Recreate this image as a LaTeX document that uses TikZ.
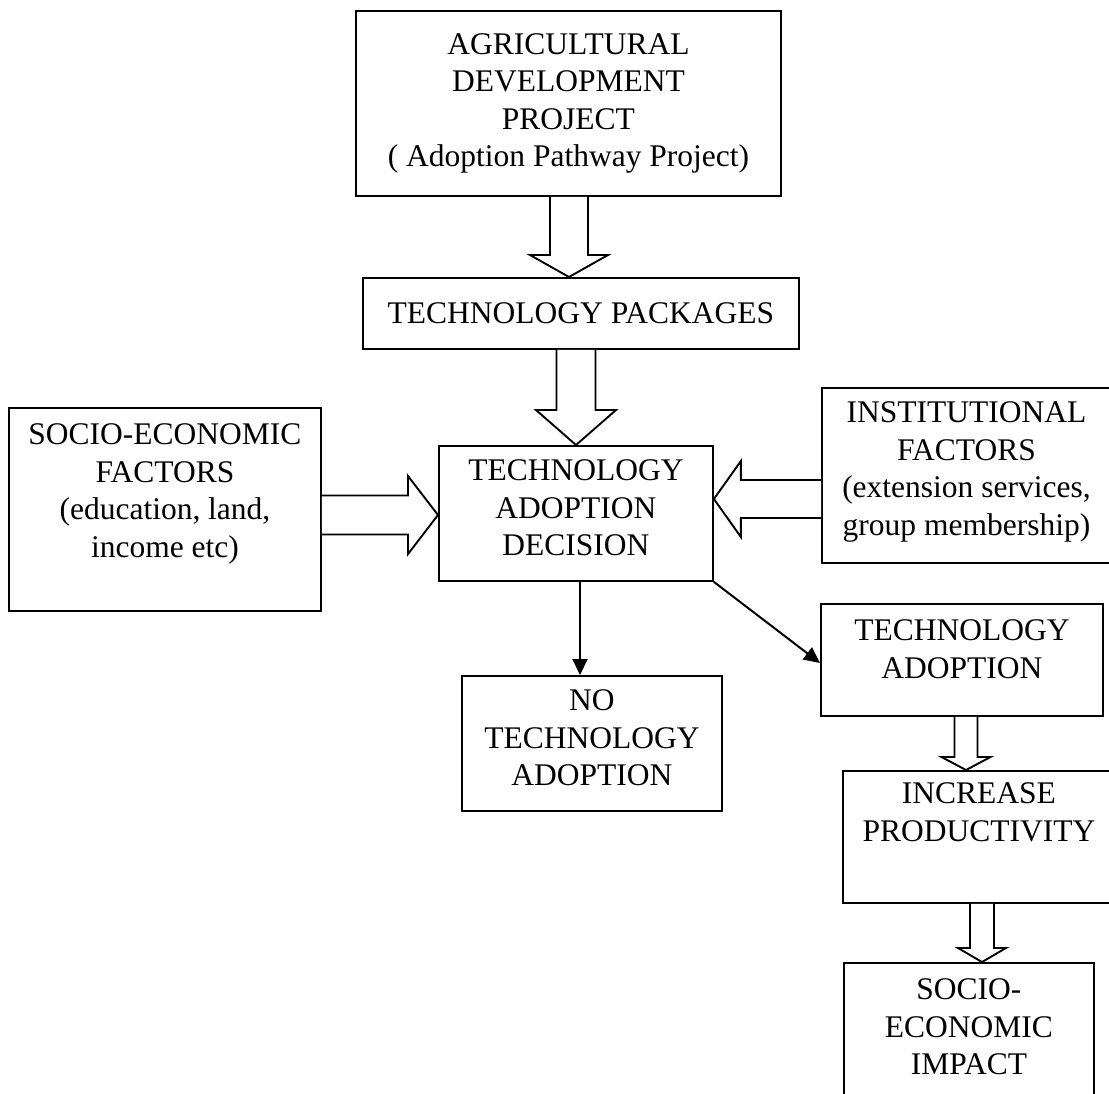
\documentclass[tikz,border=0pt]{standalone}
\usepackage{fontspec}
\setmainfont{Liberation Serif}
\usetikzlibrary{calc,arrows.meta}
\tikzset{
  box/.style={draw, line width=1.9pt, inner sep=0pt, anchor=north west},
  hollow/.style={draw, line width=1.9pt, fill=white, line join=miter},
  thin arrow/.style={draw, line width=2pt, -{Triangle[length=16pt,width=15pt]}}
}
% hollow block arrow: #1 start, #2 tip, #3 shaft half width, #4 head half width, #5 head length
\newcommand\hollowarrow[5]{%
  \coordinate (ha-h) at ($(#2)!#5!(#1)$);
  \draw[hollow] ($(#1)!#3!90:(#2)$) -- ($(ha-h)!#3!-90:(#1)$) -- ($(ha-h)!#4!-90:(#1)$)
     -- (#2) -- ($(ha-h)!#4!90:(#1)$) -- ($(ha-h)!#3!90:(#1)$) -- ($(#1)!#3!-90:(#2)$);
}
\newcommand\btext[4]{\parbox[c][#2pt][t]{#1pt}{\centering\vspace*{#3pt}#4\par}}
\begin{document}
\begin{tikzpicture}[x=1pt,y=-1pt,font=\fontsize{31.5}{37.5}\selectfont]
\useasboundingbox (0,0) rectangle (1109,1093);
% boxes
\node[box] (agri) at (355,10) {\parbox[c][185pt][c]{425pt}{\centering AGRICULTURAL\\DEVELOPMENT\\PROJECT\\( Adoption Pathway Project)\par}};
\node[box] (pack) at (362,277) {\parbox[c][71pt][c]{436pt}{\centering TECHNOLOGY PACKAGES\par}};
\node[box] (socio) at (8,407) {\btext{312}{203}{16}{SOCIO-ECONOMIC\\FACTORS\\(education, land,\\income etc)}};
\node[box] (dec) at (438,445) {\btext{274}{135}{14}{TECHNOLOGY\\ADOPTION\\DECISION}};
\node[box] (inst) at (821,387) {\btext{289}{175}{14}{INSTITUTIONAL\\FACTORS\\(extension services,\\group membership)}};
\node[box] (none) at (461,675) {\btext{260}{135}{14}{NO\\TECHNOLOGY\\ADOPTION}};
\node[box] (adopt) at (820,603) {\btext{282}{112}{16}{TECHNOLOGY\\ADOPTION}};
\node[box] (prod) at (842,770) {\btext{272}{132}{12}{INCREASE\\PRODUCTIVITY}};
\node[box] (impact) at (843,962) {\btext{250}{150}{16}{SOCIO-\\ECONOMIC\\IMPACT}};
% hollow arrows
\coordinate (a1s) at ($(agri.south west)+(214,0)$);
\coordinate (a1e) at (a1s |- pack.north);
\hollowarrow{a1s}{a1e}{19pt}{39pt}{22pt}
\coordinate (a2s) at ($(pack.south west)+(214,0)$);
\coordinate (a2e) at (a2s |- dec.north);
\hollowarrow{a2s}{a2e}{19.5pt}{40pt}{35pt}
\coordinate (a3s) at ($(socio.north east)+(0,108)$);
\coordinate (a3e) at (a3s -| dec.west);
\hollowarrow{a3s}{a3e}{19.5pt}{39pt}{30pt}
\coordinate (a4s) at ($(inst.north west)+(0,112)$);
\coordinate (a4e) at (a4s -| dec.east);
\hollowarrow{a4s}{a4e}{19pt}{38pt}{27pt}
\coordinate (a7s) at ($(adopt.south west)+(146,0)$);
\coordinate (a7e) at (a7s |- prod.north);
\hollowarrow{a7s}{a7e}{11.5pt}{24.5pt}{13pt}
\coordinate (a8s) at ($(prod.south west)+(140,0)$);
\coordinate (a8e) at (a8s |- impact.north);
\hollowarrow{a8s}{a8e}{12pt}{24pt}{14pt}
% thin arrows
\coordinate (d1) at ($(dec.south west)+(142,0)$);
\draw[thin arrow] (d1) -- (d1 |- none.north);
\draw[thin arrow] (dec.south east) -- ($(adopt.north west)+(0,60)$);
\end{tikzpicture}
\end{document}
